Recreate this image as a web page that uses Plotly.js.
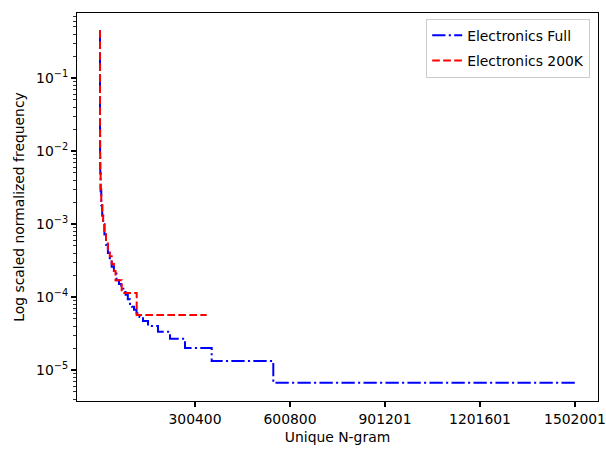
<!DOCTYPE html>
<html>
<head>
<meta charset="utf-8">
<script src="https://cdn.plot.ly/plotly-3.0.1.min.js"></script>
<style>html,body{margin:0;padding:0;background:#fff;}#chart{width:606px;height:449px;}</style>
</head>
<body>
<div id="chart"></div>
<script>
// Electronics Full: rank where each level starts, and the normalized frequency
const fullRank = [1, 3, 10, 30, 100, 300, 800, 2000, 4000, 7000, 10000, 14000, 19000, 25000, 31000, 37000, 44000, 52000, 60000, 67000, 74000, 81000, 88000, 95000, 101000, 107500, 115400, 125000, 136000, 151800, 183400, 221300, 268800, 353200, 548000, 1502001];
const fullFreq = [0.45, 0.2, 0.09, 0.045, 0.02, 0.009, 0.005, 0.0028, 0.0018, 0.0013, 0.001, 0.00072, 0.00052, 0.0004, 0.00032, 0.00026, 0.00021, 0.00017, 0.00015, 0.00013, 0.000117, 0.000107, 0.0000933, 0.00008, 0.0000733, 0.0000667, 0.00006, 0.0000533, 0.0000467, 0.00004, 0.0000333, 0.0000267, 0.00002, 0.0000133, 0.00000667, 0.00000667];

// Electronics 200K
const smallRank = [1, 3, 10, 30, 100, 300, 800, 2000, 4000, 7000, 10000, 14000, 19000, 25000, 31000, 37000, 44000, 49000, 68600, 116000, 337400];
const smallFreq = [0.45, 0.2, 0.09, 0.045, 0.02, 0.009, 0.005, 0.003, 0.002, 0.0014, 0.0011, 0.0008, 0.00057, 0.00045, 0.00036, 0.000284, 0.000227, 0.00017, 0.0001134, 0.0000567, 0.0000567];

const xTicks = [300400, 600800, 901201, 1201601, 1502001];
const yTicks = [1e-5, 1e-4, 1e-3, 1e-2, 1e-1];
const yTickText = ['10<sup>−5</sup>', '10<sup>−4</sup>', '10<sup>−3</sup>', '10<sup>−2</sup>', '10<sup>−1</sup>'];

const minorY = [];
for (let e = -6; e <= 0; e++) for (let m = 2; m <= 9; m++) minorY.push(m * Math.pow(10, e));

const font = {family: 'DejaVu Sans, sans-serif', size: 13.9, color: '#000'};

const traces = [
  {x: fullRank, y: fullFreq, name: 'Electronics Full', mode: 'lines', legendgroup: 'a',
   line: {color: '#0000ff', width: 2, dash: '13.3px,3.3px,2.1px,3.3px', shape: 'hv'}},
  {x: smallRank, y: smallFreq, name: 'Electronics 200K', mode: 'lines', legendgroup: 'b',
   line: {color: '#ff0000', width: 2, dash: '7.7px,3.3px', shape: 'hv'}}
];

const layout = {
  width: 606, height: 449,
  margin: {l: 77, r: 8, t: 13, b: 48},
  paper_bgcolor: '#fff', plot_bgcolor: '#fff',
  font: font,
  showlegend: true,
  legend: {x: 0.985, y: 0.985, xanchor: 'right', yanchor: 'top', bgcolor: 'rgba(255,255,255,0.8)',
           bordercolor: '#cccccc', borderwidth: 1, font: font, traceorder: 'grouped', tracegroupgap: 4},
  xaxis: {
    range: [-72700, 1574700], tickvals: xTicks, ticktext: xTicks.map(String),
    ticks: 'outside', ticklen: 5, tickwidth: 1.1, tickcolor: '#000',
    showline: true, linecolor: '#000', linewidth: 1.1, mirror: true,
    showgrid: false, zeroline: false,
    title: {text: 'Unique N-gram', font: font, standoff: 6}
  },
  yaxis: {
    type: 'log', range: [-5.425, -0.11], tickvals: yTicks, ticktext: yTickText,
    ticks: 'outside', ticklen: 5, tickwidth: 1.1, tickcolor: '#000',
    minor: {tickvals: minorY, ticks: 'outside', ticklen: 3, tickwidth: 0.8, tickcolor: '#000', showgrid: false},
    showline: true, linecolor: '#000', linewidth: 1.1, mirror: true,
    showgrid: false, zeroline: false,
    title: {text: 'Log scaled normalized frequency', font: font, standoff: 8}
  }
};

Plotly.newPlot('chart', traces, layout, {staticPlot: true, displayModeBar: false});
</script>
</body>
</html>
